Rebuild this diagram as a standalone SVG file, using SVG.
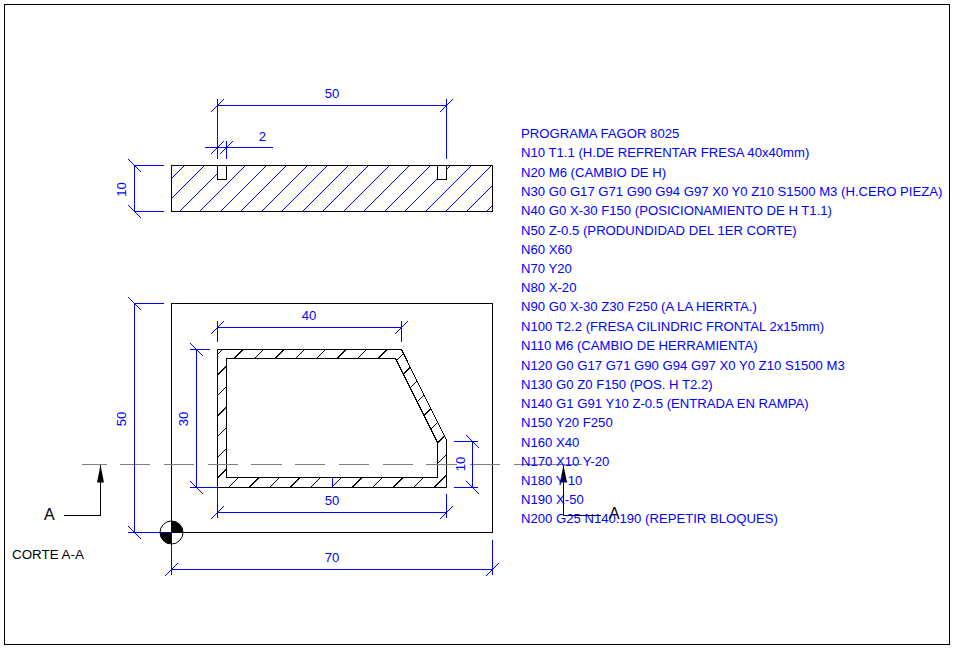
<svg xmlns="http://www.w3.org/2000/svg" width="954" height="648" viewBox="0 0 954 648">
<style>
.k{fill:none;stroke:#000;stroke-width:1;shape-rendering:crispEdges}
.b{fill:none;stroke:#0000ff;stroke-width:1;shape-rendering:crispEdges}
.c{fill:none;stroke:#808080;stroke-width:1;shape-rendering:crispEdges}
.hk{fill:none;stroke:#000;stroke-width:1;shape-rendering:crispEdges}
.hb{fill:none;stroke:#0000ff;stroke-width:1;shape-rendering:crispEdges}
text{font-family:"Liberation Sans",Arial,sans-serif;font-size:13.14px}
.t{fill:#0000ff}
.m{text-anchor:middle}
.s{fill:#000}
</style>
<defs>
<clipPath id="topclip"><path d="M171.5 165.5H492.5V211.5H171.5Z"/></clipPath>
<clipPath id="pocketclip"><path clip-rule="evenodd" d="M217.5 349.5H401.5L446.5 440V487.5H217.5ZM226.5 358.5V477.5H437.5V442.5L395.5 358.5Z"/></clipPath>
</defs>
<rect width="954" height="648" fill="#fff"/>
<rect id="frame" class="k" x="4.5" y="4.5" width="945" height="640"/>

<g id="top-view">
<path class="hb" clip-path="url(#topclip)" d="M138.3 211.5L184.3 165.5M158.8 211.5L204.8 165.5M179.3 211.5L225.3 165.5M199.8 211.5L245.8 165.5M220.3 211.5L266.3 165.5M240.8 211.5L286.8 165.5M261.3 211.5L307.3 165.5M281.8 211.5L327.8 165.5M302.3 211.5L348.3 165.5M322.8 211.5L368.8 165.5M343.3 211.5L389.3 165.5M363.8 211.5L409.8 165.5M384.3 211.5L430.3 165.5M404.8 211.5L450.8 165.5M425.3 211.5L471.3 165.5M445.8 211.5L491.8 165.5M466.3 211.5L512.3 165.5M486.8 211.5L532.8 165.5"/>
<rect x="217.5" y="165.5" width="9" height="14" fill="#fff" stroke="#000" shape-rendering="crispEdges"/>
<rect x="437.5" y="165.5" width="9" height="14" fill="#fff" stroke="#000" shape-rendering="crispEdges"/>
<rect class="k" x="171.5" y="165.5" width="321" height="46"/>
</g>

<g id="plan-view">
<rect class="k" x="171.5" y="303.5" width="321" height="229"/>
<path class="hk" clip-path="url(#pocketclip)" d="M85 487L222.5 349.5M105.5 487L243 349.5M126.1 487L263.6 349.5M146.6 487L284.1 349.5M167.2 487L304.7 349.5M187.8 487L325.3 349.5M208.4 487L345.9 349.5M228.9 487L366.4 349.5M249.5 487L387 349.5M270.1 487L407.6 349.5M290.7 487L428.2 349.5M311.2 487L448.7 349.5M331.8 487L469.3 349.5M352.4 487L489.9 349.5M373 487L510.5 349.5M393.5 487L531 349.5M414.1 487L551.6 349.5M434.7 487L572.2 349.5"/>
<path class="k" d="M217.5 349.5H401.5L446.5 440V487.5H217.5Z"/>
<path class="k" d="M226.5 358.5H395.5L437.5 442.5V477.5H226.5Z"/>
</g>

<g id="connectors">
<path class="c" d="M82 464.5H107M120 464.5H150M164 464.5H194M208 464.5H238M251 464.5H282M295 464.5H325M339 464.5H369M383 464.5H413M426 464.5H457M470 464.5H500M514 464.5H582"/>
<g id="dim-top-50">
<path class="b" d="M217.5 99V159M446.5 99V159M217.5 105.5H446.5M211 112L224 99M440 112L453 99"/>
</g>
<g id="dim-top-2">
<path class="b" d="M226.5 141V159M205 147.5H273M211 154L224 141M220 154L233 141"/>
</g>
<g id="dim-top-10">
<path class="b" d="M134.5 165.5V211.5M134 165.5H164M134 211.5H164M128 159L141 172M128 205L141 218"/>
</g>
<g id="dim-plan-50-left">
<path class="b" d="M134.5 303.5V532.5M134 303.5H164M128 532.5H171M128 297L141 310M128 526L141 539"/>
</g>
<g id="dim-plan-40">
<path class="b" d="M217.5 321V342M401.5 321V342M217.5 327.5H401.5M211 334L224 321M395 334L408 321"/>
</g>
<g id="dim-plan-30">
<path class="b" d="M196.5 349.5V487.5M190 349.5H210M190 487.5H217M190 343L203 356M190 481L203 494"/>
</g>
<g id="dim-plan-50-bottom">
<path class="b" d="M217.5 488V518M446.5 494V518M217.5 512.5H446.5M211 519L224 506M440 519L453 506M332.5 477.5V487"/>
</g>
<g id="dim-plan-70">
<path class="b" d="M171.5 533V575M492.5 540V575M171.5 569.5H492.5M165 576L178 563M486 576L499 563"/>
</g>
<g id="dim-plan-10">
<path class="b" d="M472.5 441.5V487.5M454 441.5H478M454 487.5H478M466 435L479 448M466 481L479 494"/>
</g>
<g id="section-left">
<path class="k" d="M64 515.5H100.5V465"/>
<path class="s" d="M100.5 465L104 482.5H97Z"/>
</g>
<g id="section-right">
<path class="k" d="M563.5 465V515.5H601"/>
<path class="s" d="M563.5 465L567 482.5H560Z"/>
</g>
</g>

<g id="origin">
<path class="s" d="M171.5 532.5V521A11.5 11.5 0 0 1 183 532.5ZM171.5 532.5V544A11.5 11.5 0 0 1 160 532.5Z"/>
<circle cx="171.5" cy="532.5" r="11.5" fill="none" stroke="#000"/>
</g>

<g id="dim-labels" class="t">
<text class="t m" x="332" y="98">50</text>
<text class="t m" x="262.5" y="141">2</text>
<text class="t m" transform="translate(126 189.5) rotate(-90)">10</text>
<text class="t m" transform="translate(126 419) rotate(-90)">50</text>
<text class="t m" x="309" y="320">40</text>
<text class="t m" transform="translate(188 419) rotate(-90)">30</text>
<text class="t m" x="332" y="505">50</text>
<text class="t m" x="332" y="562">70</text>
<text class="t m" transform="translate(465 464) rotate(-90)">10</text>
</g>

<g id="section-labels">
<text x="44" y="520" style="font-size:16px">A</text>
<text x="609" y="519" style="font-size:16px">A</text>
<text x="12" y="559" style="font-size:13.4px">CORTE A-A</text>
</g>

<g id="program" class="t">
<text class="t" x="521" y="137.5">PROGRAMA FAGOR 8025</text>
<text class="t" x="521" y="156.5">N10 T1.1 (H.DE REFRENTAR FRESA 40x40mm)</text>
<text class="t" x="521" y="176.5">N20 M6 (CAMBIO DE H)</text>
<text class="t" x="521" y="195.5">N30 G0 G17 G71 G90 G94 G97 X0 Y0 Z10 S1500 M3 (H.CERO PIEZA)</text>
<text class="t" x="521" y="214.5">N40 G0 X-30 F150 (POSICIONAMIENTO DE H T1.1)</text>
<text class="t" x="521" y="234.5">N50 Z-0.5 (PRODUNDIDAD DEL 1ER CORTE)</text>
<text class="t" x="521" y="253.5">N60 X60</text>
<text class="t" x="521" y="272.5">N70 Y20</text>
<text class="t" x="521" y="291.5">N80 X-20</text>
<text class="t" x="521" y="310.5">N90 G0 X-30 Z30 F250 (A LA HERRTA.)</text>
<text class="t" x="521" y="330.5">N100 T2.2 (FRESA CILINDRIC FRONTAL 2x15mm)</text>
<text class="t" x="521" y="349.5">N110 M6 (CAMBIO DE HERRAMIENTA)</text>
<text class="t" x="521" y="369.5">N120 G0 G17 G71 G90 G94 G97 X0 Y0 Z10 S1500 M3</text>
<text class="t" x="521" y="388.5">N130 G0 Z0 F150 (POS. H T2.2)</text>
<text class="t" x="521" y="407.5">N140 G1 G91 Y10 Z-0.5 (ENTRADA EN RAMPA)</text>
<text class="t" x="521" y="426.5">N150 Y20 F250</text>
<text class="t" x="521" y="446.5">N160 X40</text>
<text class="t" x="521" y="465.5">N170 X10 Y-20</text>
<text class="t" x="521" y="484.5">N180 Y-10</text>
<text class="t" x="521" y="503.5">N190 X-50</text>
<text class="t" x="521" y="522.5">N200 G25 N140.190 (REPETIR BLOQUES)</text>
</g>
</svg>
